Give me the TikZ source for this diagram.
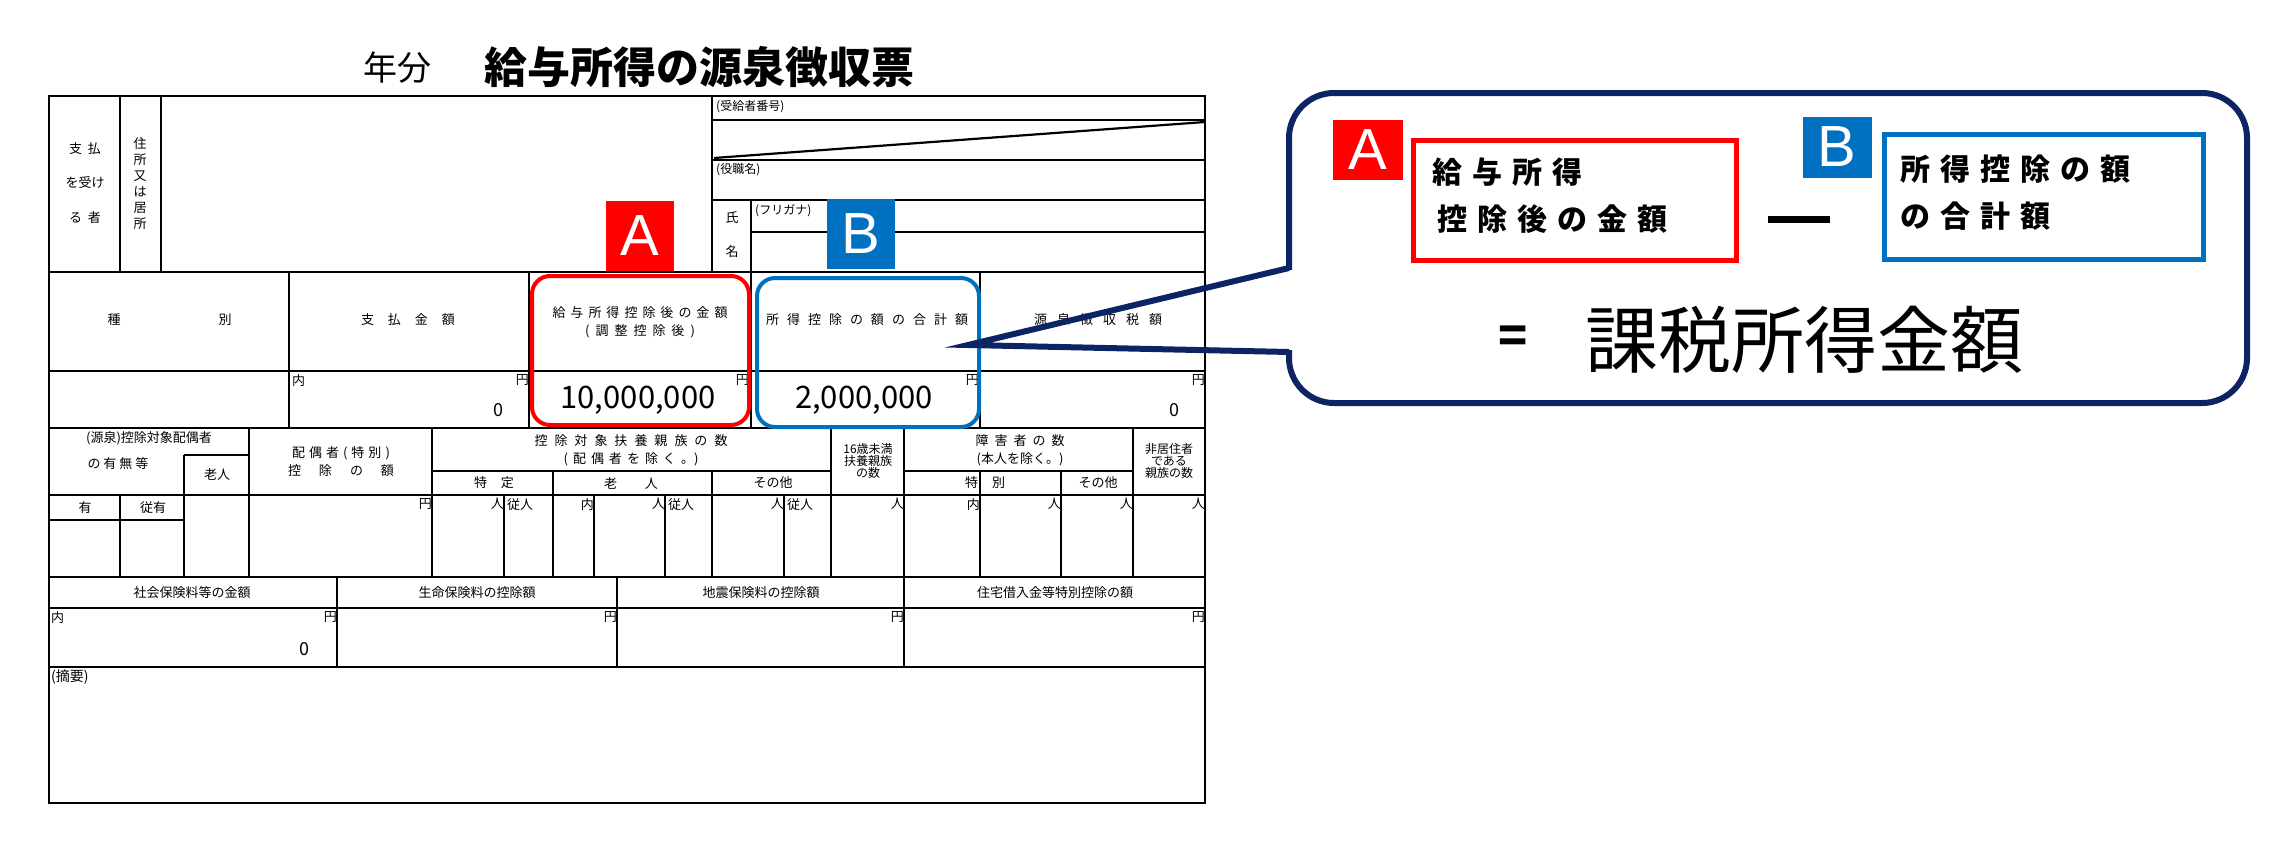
\documentclass[tikz,border=0pt]{standalone}
\usepackage{fontspec}
\setmainfont{Noto Sans CJK JP}
\newfontfamily\latin{Liberation Sans}
\definecolor{navy}{HTML}{0D2464}
\definecolor{myred}{HTML}{FF0000}
\definecolor{myblue}{HTML}{0070C0}
\newcommand\fs[1]{\fontsize{#1}{#1}\selectfont}
\newcommand\g[1]{\hspace{#1pt}}
\begin{document}
\begin{tikzpicture}[x=1pt,y=-1pt,
  tl/.style={line width=2.2pt},
  t/.style={inner sep=0pt,font=\fs{13}},
  tr/.style={t,anchor=north east},
  tlft/.style={t,anchor=north west},
  lab/.style={inner sep=0pt,minimum width=68pt,minimum height=65pt,text=white,font=\latin\fs{58}}]
\useasboundingbox (0,0) rectangle (2280,851);
% title
\node[inner sep=0] (nen) at (397,68) {\fs{34}年分};
\node[inner sep=0,anchor=west] (title) at (484,67) {\fs{43}\bfseries 給与所得の源泉徴収票};
% outer frame and lines
\draw[tl] (48.6,96) rectangle (1205,803);
\foreach \y in {272,371,428,495,577,608,667} \draw[tl] (48.6,\y) -- (1205,\y);
\foreach \x in {120,161,712} \draw[tl] (\x,96) -- (\x,272);
\foreach \y in {120,160,200} \draw[tl] (712,\y) -- (1205,\y);
\draw[tl] (751,200) -- (751,272);
\draw[tl] (751,232) -- (1205,232);
\draw[tl] (714,158) -- (1205,122);
\foreach \x in {289,529,751,980} \draw[tl] (\x,272) -- (\x,428);
\foreach \x in {249,432,831,904,1133} \draw[tl] (\x,428) -- (\x,577);
\draw[tl] (184,455) -- (249,455); \draw[tl] (184,455) -- (184,577);
\draw[tl] (48.6,520) -- (184,520); \draw[tl] (120,495) -- (120,577);
\draw[tl] (432,471) -- (831,471); \draw[tl] (904,471) -- (1133,471);
\foreach \x in {553,712,980,1061} \draw[tl] (\x,471) -- (\x,577);
\foreach \x in {504,594,665,784} \draw[tl] (\x,495) -- (\x,577);
\foreach \x in {337,617,904} \draw[tl] (\x,577) -- (\x,667);
% top section text
\node[t] (s1) at (85,149) {支\g{6}払};
\node[t] (s2) at (85,183) {を受け};
\node[t] (s3) at (85,218) {る\g{6}者};
\node[t,align=center] (jus) at (140,184) {住\\[3pt]所\\[3pt]又\\[3pt]は\\[3pt]居\\[3pt]所};
\node[tlft,font=\fs{12}] (jk) at (716,100) {(受給者番号)};
\node[tlft,font=\fs{12}] (yk) at (716,163) {(役職名)};
\node[t] (shi) at (732,218) {氏};
\node[t] (mei) at (732,252) {名};
\node[tlft,font=\fs{12}] (fg) at (755,204) {(フリガナ)};
% header row
\node[t] (sh1) at (114,320) {種};
\node[t] (sh2) at (225,320) {別};
\node[t] (h2) at (408,320) {支\g{14}払\g{14}金\g{14}額};
\node[t] (h3a) at (640,313) {給\g{5}与\g{5}所\g{5}得\g{5}控\g{5}除\g{5}後\g{5}の\g{5}金\g{5}額};
\node[t] (h3b) at (640,331) {(\g{6}調\g{6}整\g{6}控\g{6}除\g{6}後\g{6})};
\node[t] (h4) at (867,320) {所\g{8}得\g{8}控\g{8}除\g{8}の\g{8}額\g{8}の\g{8}合\g{8}計\g{8}額};
\node[t] (h5) at (1098,320) {源\g{10}泉\g{10}徴\g{10}収\g{10}税\g{10}額};
% amount row
\node[tlft] (u1) at (292,374) {内};
\foreach \x/\n in {529/a,749/b,979/c,1205/d} \node[tr] (y\n) at (\x,374) {円};
\node[t,font=\fs{18}] (z1) at (498,410) {0};
\node[t,font=\fs{18}] (z2) at (1174,410) {0};
\node[t,font=\fs{31}] (v1) at (638,400) {10,000,000};
\node[t,font=\fs{31}] (v2) at (864,400) {2,000,000};
% dependants section
\node[t] (d1) at (149,438) {(源泉)控除対象配偶者};
\node[t] (d2) at (118,464) {の\g{3}有\g{3}無\g{3}等};
\node[t] (d3) at (217,474) {老人};
\node[t] (d4) at (341,453) {配\g{4}偶\g{4}者\g{4}(\g{4}特\g{4}別\g{4})};
\node[t] (d5) at (341,471) {控\g{18}除\g{18}の\g{18}額};
\node[t] (d6) at (631,441) {控\g{7}除\g{7}対\g{7}象\g{7}扶\g{7}養\g{7}親\g{7}族\g{7}の\g{7}数};
\node[t] (d7) at (631,459) {(\g{5}配\g{5}偶\g{5}者\g{5}を\g{5}除\g{5}く\g{5}。)};
\node[t] (d8) at (494,483) {特\g{14}定};
\node[t] (d9) at (631,483) {老\g{28}人};
\node[t] (d10) at (773,483) {その他};
\node[t,align=center,font=\fs{12}] (d11) at (868,461) {16歳未満\\扶養親族\\の数};
\node[t] (d12) at (1020,441) {障\g{6}害\g{6}者\g{6}の\g{6}数};
\node[t] (d13) at (1020,459) {(本人を除く。)};
\node[t] (d14) at (985,483) {特\g{14}別};
\node[t] (d15) at (1098,483) {その他};
\node[t,align=center,font=\fs{12}] (d16) at (1169,461) {非居住者\\である\\親族の数};
\node[t] (d17) at (85,508) {有};
\node[t] (d18) at (153,508) {従有};
\node[tr] (e1) at (432,498) {円};
\node[tr] (e2) at (504,498) {人};
\node[tlft] (e3) at (507,498) {従人};
\node[tr] (e4) at (594,498) {内};
\node[tr] (e5) at (665,498) {人};
\node[tlft] (e6) at (668,498) {従人};
\node[tr] (e7) at (784,498) {人};
\node[tlft] (e8) at (787,498) {従人};
\node[tr] (e9) at (904,498) {人};
\node[tr] (e10) at (980,498) {内};
\node[tr] (e11) at (1061,498) {人};
\node[tr] (e12) at (1133,498) {人};
\node[tr] (e13) at (1205,498) {人};
% insurance row
\node[t] (i1) at (192,593) {社会保険料等の金額};
\node[t] (i2) at (477,593) {生命保険料の控除額};
\node[t] (i3) at (761,593) {地震保険料の控除額};
\node[t] (i4) at (1055,593) {住宅借入金等特別控除の額};
\node[tlft] (i5) at (51,611) {内};
\foreach \x/\n in {337/a,617/b,904/c,1205/d} \node[tr] (j\n) at (\x,611) {円};
\node[t,font=\fs{18}] (z3) at (304,649) {0};
\node[tlft,font=\fs{14}] (tek) at (51,670) {(摘要)};
% highlight boxes
\draw[myred,line width=4pt,rounded corners=18pt] (532,276) rectangle (749,425);
\draw[myblue,line width=4pt,rounded corners=18pt] (757,278) rectangle (979,427);
\node[lab,fill=myred,minimum height=70pt] (la) at (639.5,236) {A};
\node[lab,fill=myblue,minimum height=70pt] (lb) at (860.5,234) {B};
% callout
\draw[navy,line width=6pt,fill=white,rounded corners=45pt] (1289,93) rectangle (2247,403) ;
\coordinate (tip) at (968,345);
\coordinate (cu) at (1289,268);
\coordinate (cl) at (1289,352);
\fill[white] (1280,270) rectangle (1298,350);
\draw[navy,line width=6pt,line join=miter] (cu) -- (tip) -- (cl);
\node[lab,fill=myred,minimum width=70pt,minimum height=60pt] (ca) at (1368,150) {A};
\node[lab,fill=myblue,minimum width=69pt,minimum height=61pt] (cb) at (1837,147) {B};
\draw[myred,line width=5pt] (1413,140) rectangle (1736,260);
\draw[myblue,line width=5pt] (1884,134) rectangle (2203,259);
\node[inner sep=0,anchor=west,font=\fs{30}\bfseries] (ta1) at (1432,172) {給\kern10pt 与\kern10pt 所\kern10pt 得};
\node[inner sep=0,anchor=west,font=\fs{30}\bfseries] (ta2) at (1437,219) {控\kern10pt 除\kern10pt 後\kern10pt の\kern10pt 金\kern10pt 額};
\node[inner sep=0,anchor=west,font=\fs{30}\bfseries] (tb1) at (1900,169) {所\kern10pt 得\kern10pt 控\kern10pt 除\kern10pt の\kern10pt 額};
\node[inner sep=0,anchor=west,font=\fs{30}\bfseries] (tb2) at (1900,216) {の\kern10pt 合\kern10pt 計\kern10pt 額};
\draw[line width=7pt] (1768,219) -- (1830,219);
\node[inner sep=0,font=\fs{48}\bfseries] (eq) at (1513,340) {=};
\node[inner sep=0,anchor=west,font=\fs{73}] (kz) at (1585,340) {課税所得金額};
\end{tikzpicture}
\end{document}
